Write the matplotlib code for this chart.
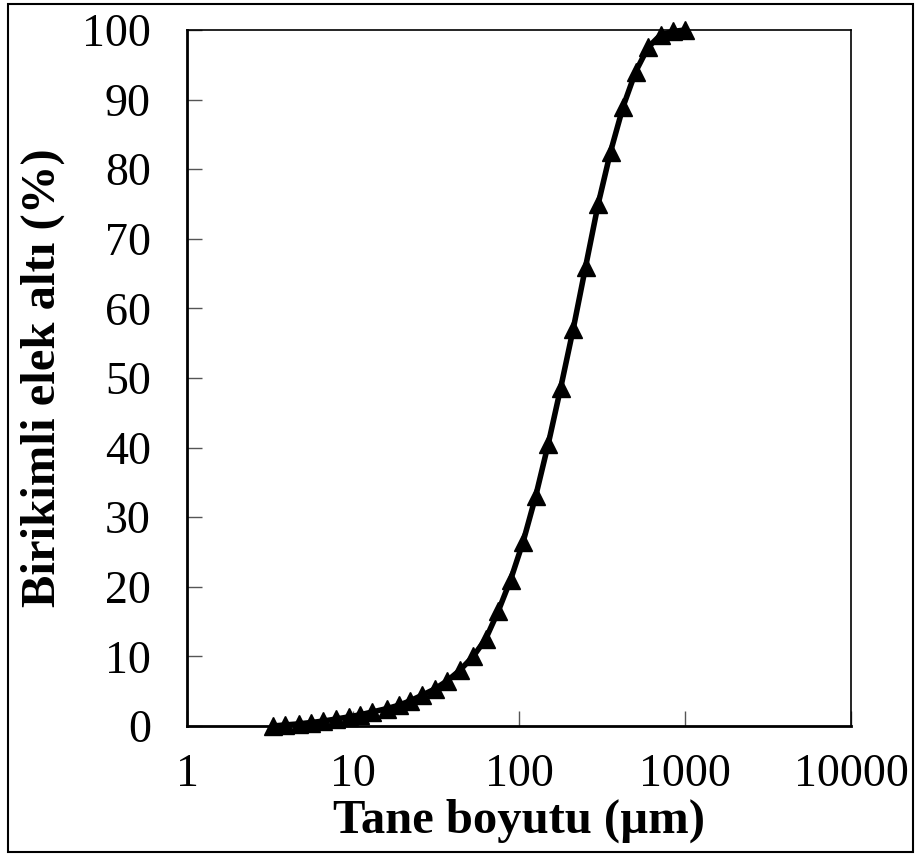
import matplotlib.pyplot as plt
from matplotlib.patches import Rectangle
from matplotlib.ticker import LogLocator, FixedLocator, NullFormatter

plt.rcParams['font.family'] = ['Liberation Serif', 'DejaVu Serif']

# particle size (um) and cumulative passing (%)
size_um = [3.3, 3.9, 4.7, 5.6, 6.6, 7.9, 9.4, 11, 13, 16, 19, 22, 26, 31, 37,
           44, 53, 63, 75, 89, 106, 126, 150, 178, 212, 252, 300, 356, 424,
           504, 599, 713, 848, 1000]
passing = [0.0, 0.15, 0.3, 0.5, 0.7, 1.0, 1.3, 1.6, 2.0, 2.5, 3.0, 3.6, 4.4,
           5.3, 6.5, 8.0, 10.0, 12.5, 16.5, 21.0, 26.5, 33.0, 40.5, 48.5, 57.0,
           66.0, 75.0, 82.5, 89.0, 94.0, 97.5, 99.3, 99.8, 100.0]

x_ticks = [1, 10, 100, 1000, 10000]
y_ticks = [0, 10, 20, 30, 40, 50, 60, 70, 80, 90, 100]

fig = plt.figure(figsize=(9.18, 8.55), dpi=100)
ax = fig.add_axes([0.2037, 0.1509, 0.7233, 0.814])

ax.plot(size_um, passing, color='black', linewidth=4, marker='^',
        markersize=13, clip_on=False, zorder=3)

ax.set_xscale('log')
ax.set_xlim(1, 10000)
ax.set_ylim(0, 100)
ax.xaxis.set_major_locator(FixedLocator(x_ticks))
ax.set_xticklabels([str(t) for t in x_ticks])
ax.xaxis.set_minor_locator(LogLocator(base=10, subs=range(2, 10)))
ax.xaxis.set_minor_formatter(NullFormatter())
ax.set_yticks(y_ticks)

ax.tick_params(axis='both', which='major', direction='in', length=11,
               width=1, labelsize=33, color='#555555')
ax.tick_params(axis='x', which='major', pad=20)
ax.tick_params(axis='y', which='major', pad=26)
ax.tick_params(axis='x', which='minor', direction='in', length=7,
               width=1, color='#555555')

for side in ['left', 'bottom']:
    ax.spines[side].set_linewidth(2)
for side in ['top', 'right']:
    ax.spines[side].set_linewidth(1.2)

ax.set_xlabel('Tane boyutu (µm)', fontsize=35, fontweight='bold', labelpad=2)
ax.set_ylabel('Birikimli elek altı (%)', fontsize=35, fontweight='bold', labelpad=12)

fig.patches.append(Rectangle((0.009, 0.003), 0.986, 0.992, transform=fig.transFigure,
                             fill=False, edgecolor='black', linewidth=1.5))

fig.savefig('out.png', dpi=100)
